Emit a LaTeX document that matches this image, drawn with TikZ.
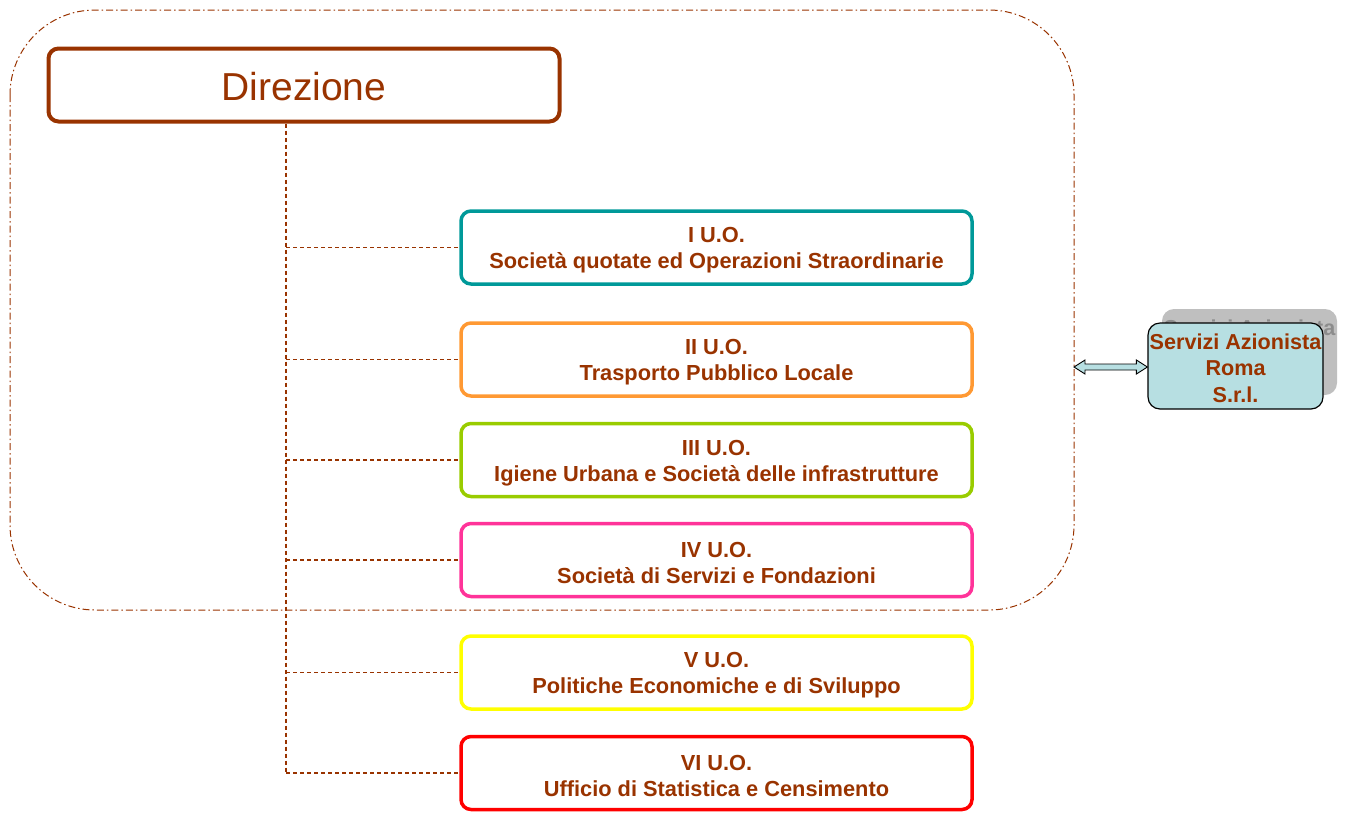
\documentclass[tikz,border=0pt]{standalone}
\usepackage{fontspec}
\setmainfont{Liberation Sans}
\usetikzlibrary{calc}
\definecolor{brn}{HTML}{993300}
\definecolor{cteal}{HTML}{009999}
\definecolor{corange}{HTML}{FF9933}
\definecolor{cgreen}{HTML}{99CC00}
\definecolor{cpink}{HTML}{FF3399}
\definecolor{cyellow}{HTML}{FFFF00}
\definecolor{cred}{HTML}{FF0000}
\definecolor{lblue}{HTML}{B7DFE2}
\definecolor{shgray}{HTML}{BFBFBF}
\definecolor{shtext}{HTML}{8C8C8C}
\begin{document}
\begin{tikzpicture}[x=1pt,y=-1pt,
  uo/.style={draw=#1, line width=3.5pt, rounded corners=10pt, minimum width=511pt, minimum height=73pt, inner sep=0pt},
  lab/.style={align=center, font=\bfseries\fontsize{21.8}{26}\selectfont, text=brn, inner sep=0pt, yshift=-3pt},
  link/.style={draw=brn, line width=1.2pt, dash pattern=on 4pt off 3pt},
  srv/.style={rounded corners=12pt, minimum width=175pt, minimum height=86pt, inner sep=0pt},
  srvlab/.style={align=center, font=\bfseries\fontsize{21.6}{26.5}\selectfont, inner sep=0pt, yshift=-2pt}]
\useasboundingbox (0,0) rectangle (1349,812);
% outer container
\draw[brn, line width=1pt, dash pattern=on 7pt off 3pt on 1.5pt off 3pt, rounded corners=85pt]
  (10,10) rectangle (1074,610);
% Direzione
\node[draw=brn, line width=4pt, rounded corners=10pt, minimum width=511pt, minimum height=73pt, inner sep=0pt,
  label={[text=brn, font=\fontsize{39}{44}\selectfont, inner sep=0pt, yshift=-2pt]center:Direzione}] (dir) at (304,85) {};
% units
\node[uo=cteal, label={[lab]center:{I U.O.\\Società quotate ed Operazioni Straordinarie}}] (uo1) at (716.5,247.5) {};
\node[uo=corange, label={[lab]center:{II U.O.\\Trasporto Pubblico Locale}}] (uo2) at (716.5,359.5) {};
\node[uo=cgreen, label={[lab]center:{III U.O.\\Igiene Urbana e Società delle infrastrutture}}] (uo3) at (716.5,460) {};
\node[uo=cpink, label={[lab]center:{IV U.O.\\Società di Servizi e Fondazioni}}] (uo4) at (716.5,560) {};
\node[uo=cyellow, label={[lab]center:{V U.O.\\Politiche Economiche e di Sviluppo}}] (uo5) at (716.5,672.5) {};
\node[uo=cred, label={[lab]center:{VI U.O.\\Ufficio di Statistica e Censimento}}] (uo6) at (716.5,773) {};
% trunk
\coordinate (top) at (dir.south -| 286,0);
\draw[link] (top) -- (uo6.west -| top);
\foreach \i in {1,...,6} { \draw[link] (uo\i.west -| top) -- (uo\i.west); }
% Servizi Azionista Roma
\node[srv, fill=shgray, label={[srvlab, text=shtext]center:{Servizi Azionista\\Roma\\S.r.l.}}] (srvsh) at (1249.5,352) {};
\node[srv, draw=black, line width=1.2pt, fill=lblue, label={[srvlab, text=brn]center:{Servizi Azionista\\Roma\\S.r.l.}}] (srv) at (1235.5,366) {};
\coordinate (cont) at (1074,367);
\coordinate (R) at (srv.west |- cont);
\draw[black, line width=0.9pt, fill=lblue, line join=miter]
  (cont) -- ($(cont)+(11,-7)$) -- ($(cont)+(11,-3)$) -- ($(R)+(-11,-3)$) -- ($(R)+(-11,-7)$) -- (R)
  -- ($(R)+(-11,7)$) -- ($(R)+(-11,3)$) -- ($(cont)+(11,3)$) -- ($(cont)+(11,7)$) -- cycle;
\end{tikzpicture}
\end{document}
